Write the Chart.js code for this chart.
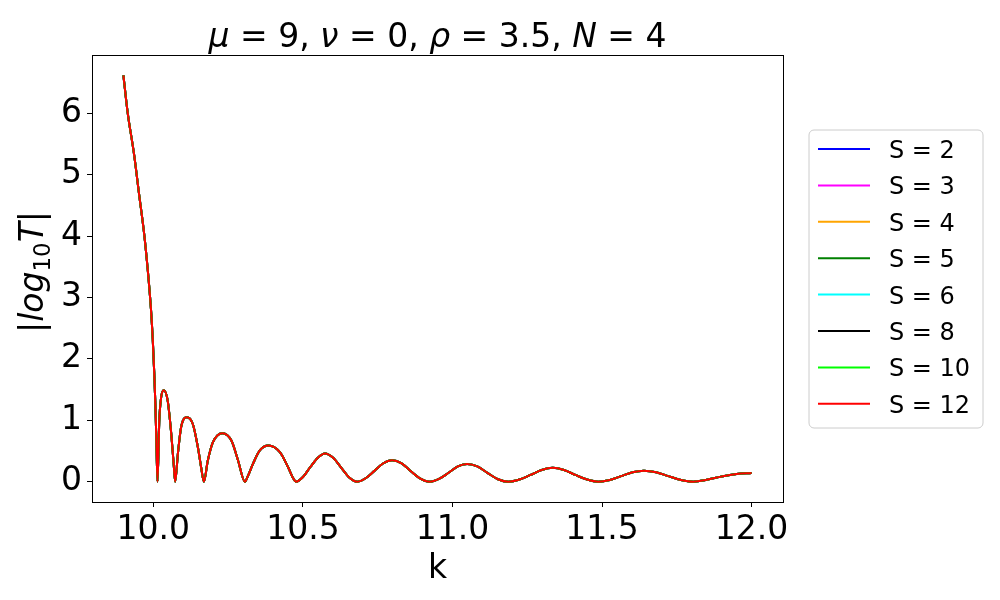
<!DOCTYPE html>
<html>
<head>
<meta charset="utf-8">
<script src="https://cdn.jsdelivr.net/npm/chart.js@4.4.0/dist/chart.umd.min.js"></script>
<style>
  html, body { margin: 0; padding: 0; background: #ffffff; }
  #wrap { width: 1000px; height: 600px; }
</style>
</head>
<body>
<div id="wrap"><canvas id="chart" width="1000" height="600"></canvas></div>
<script>
// wave number k (x) and |log10 T| (y)
var kValues = [
  9.900, 9.914, 9.936, 9.953, 9.970, 9.981, 9.992, 9.998, 10.003, 10.007, 10.010, 10.014,
  10.020, 10.026, 10.035, 10.048, 10.059, 10.068, 10.073,
  10.082, 10.093, 10.112, 10.132, 10.149, 10.160, 10.169,
  10.182, 10.199, 10.231, 10.261, 10.283, 10.306,
  10.316, 10.333, 10.356, 10.385, 10.423, 10.451, 10.466, 10.477,
  10.501, 10.525, 10.550, 10.574, 10.601, 10.628, 10.655, 10.682,
  10.711, 10.740, 10.769, 10.798, 10.830, 10.861, 10.893, 10.924,
  10.955, 10.987, 11.018, 11.049, 11.083, 11.118, 11.152, 11.187,
  11.224, 11.261, 11.298, 11.335, 11.373, 11.411, 11.450, 11.488,
  11.526, 11.564, 11.602, 11.640, 11.681, 11.722, 11.764, 11.805,
  11.850, 11.900, 11.950, 12.000
];
var logT = [
  6.62, 6.02, 5.32, 4.66, 4.01, 3.47, 2.82, 2.33, 1.78, 1.24, 0.70, 0.00,
  1.00, 1.37, 1.49, 1.32, 0.83, 0.29, 0.00,
  0.45, 0.89, 1.05, 0.94, 0.56, 0.23, 0.00,
  0.34, 0.64, 0.79, 0.67, 0.35, 0.00,
  0.09, 0.29, 0.51, 0.59, 0.48, 0.23, 0.07, 0.00,
  0.08, 0.24, 0.39, 0.46, 0.39, 0.23, 0.07, 0.00,
  0.06, 0.18, 0.30, 0.35, 0.30, 0.17, 0.05, 0.00,
  0.045, 0.145, 0.25, 0.29, 0.25, 0.14, 0.04, 0.00,
  0.035, 0.11, 0.19, 0.225, 0.19, 0.11, 0.035, 0.00,
  0.028, 0.09, 0.155, 0.18, 0.155, 0.09, 0.028, 0.00,
  0.03, 0.085, 0.125, 0.142
];
// all S curves lie on top of each other in the figure
var seriesNames = ['S = 2', 'S = 3', 'S = 4', 'S = 5', 'S = 6', 'S = 8', 'S = 10', 'S = 12'];
var seriesColors = ['#0000ff', '#ff00ff', '#ffa500', '#008000', '#00ffff', '#000000', '#00ff00', '#ff0000'];
var xTicks = [10.0, 10.5, 11.0, 11.5, 12.0];
var yTicks = [0, 1, 2, 3, 4, 5, 6];

var FONT = "'DejaVu Sans', sans-serif";

var points = kValues.map(function(k, i) { return { x: k, y: logT[i] }; });

var datasets = seriesNames.map(function(name, i) {
  return {
    label: name,
    data: points,
    borderColor: seriesColors[i],
    backgroundColor: seriesColors[i],
    borderWidth: 2,
    pointRadius: 0,
    fill: false,
    cubicInterpolationMode: 'monotone',
    order: seriesNames.length - i
  };
});

// draw text pieces in a row: [text, italic, sizeScale, yShift]
function drawPieces(ctx, pieces, size, x, y, align) {
  var total = 0;
  pieces.forEach(function(p) {
    ctx.font = (p[1] ? 'italic ' : '') + Math.round(size * (p[2] || 1)) + 'px ' + FONT;
    total += ctx.measureText(p[0]).width;
  });
  var cx = align === 'center' ? x - total / 2 : x;
  pieces.forEach(function(p) {
    ctx.font = (p[1] ? 'italic ' : '') + Math.round(size * (p[2] || 1)) + 'px ' + FONT;
    ctx.fillText(p[0], cx, y + (p[3] || 0));
    cx += ctx.measureText(p[0]).width;
  });
}

var decorPlugin = {
  id: 'decor',
  afterDraw: function(chart) {
    var ctx = chart.ctx;
    var a = chart.chartArea;
    ctx.save();
    // frame
    ctx.strokeStyle = '#000';
    ctx.lineWidth = 1;
    ctx.strokeRect(a.left + 0.5, a.top + 0.5, a.right - a.left, a.bottom - a.top);

    ctx.fillStyle = '#000';
    ctx.textBaseline = 'alphabetic';
    ctx.textAlign = 'left';
    var mid = (a.left + a.right) / 2;
    // title
    drawPieces(ctx, [
      ['\u03bc', true], [' = 9, '], ['\u03bd', true], [' = 0, '],
      ['\u03c1', true], [' = 3.5, '], ['N', true], [' = 4']
    ], 33, mid, 47, 'center');
    // x label
    ctx.font = '33px ' + FONT;
    ctx.textAlign = 'center';
    ctx.fillText('k', mid, 578);
    ctx.textAlign = 'left';
    // y label
    ctx.save();
    ctx.translate(43, 272);
    ctx.rotate(-Math.PI / 2);
    drawPieces(ctx, [
      ['|'], ['log', true], ['10', false, 0.7, 7], ['T', true], ['|']
    ], 33, 0, 0, 'center');
    ctx.restore();

    // legend
    var lx = 809, ly = 130, lw = 174, lh = 298, r = 5;
    ctx.beginPath();
    ctx.moveTo(lx + r, ly);
    ctx.arcTo(lx + lw, ly, lx + lw, ly + lh, r);
    ctx.arcTo(lx + lw, ly + lh, lx, ly + lh, r);
    ctx.arcTo(lx, ly + lh, lx, ly, r);
    ctx.arcTo(lx, ly, lx + lw, ly, r);
    ctx.closePath();
    ctx.fillStyle = 'rgba(255,255,255,0.8)';
    ctx.fill();
    ctx.strokeStyle = '#cccccc';
    ctx.stroke();
    ctx.font = '24px ' + FONT;
    seriesNames.forEach(function(name, i) {
      var y = 149 + i * 36.4;
      ctx.strokeStyle = seriesColors[i];
      ctx.lineWidth = 2;
      ctx.beginPath();
      ctx.moveTo(818, y);
      ctx.lineTo(870, y);
      ctx.stroke();
      ctx.fillStyle = '#000';
      ctx.fillText(name, 889, y + 9);
    });
    ctx.restore();
  }
};

var ctx = document.getElementById('chart').getContext('2d');
var myChart = new Chart(ctx, {
  type: 'line',
  data: { datasets: datasets },
  options: {
    responsive: false,
    animation: false,
    layout: { padding: { left: 0, top: 55, right: 217, bottom: 0 } },
    plugins: {
      legend: { display: false },
      title: { display: false },
      tooltip: { enabled: false }
    },
    scales: {
      x: {
        type: 'linear',
        min: 9.795,
        max: 12.105,
        afterBuildTicks: function(scale) {
          scale.ticks = xTicks.map(function(v) { return { value: v }; });
        },
        afterFit: function(scale) { scale.height = 98; },
        border: { display: false },
        grid: { display: true, drawOnChartArea: false, drawTicks: true, tickLength: 5, color: '#000' },
        ticks: {
          color: '#000',
          padding: 4,
          maxRotation: 0,
          font: { family: FONT, size: 33 },
          callback: function(v) { return v.toFixed(1); }
        }
      },
      y: {
        type: 'linear',
        min: -0.331,
        max: 6.951,
        afterBuildTicks: function(scale) {
          scale.ticks = yTicks.map(function(v) { return { value: v }; });
        },
        afterFit: function(scale) { scale.width = 92; },
        border: { display: false },
        grid: { display: true, drawOnChartArea: false, drawTicks: true, tickLength: 5, color: '#000' },
        ticks: {
          color: '#000',
          padding: 5,
          font: { family: FONT, size: 33 },
          callback: function(v) { return String(v); }
        }
      }
    }
  },
  plugins: [decorPlugin]
});
</script>
</body>
</html>
